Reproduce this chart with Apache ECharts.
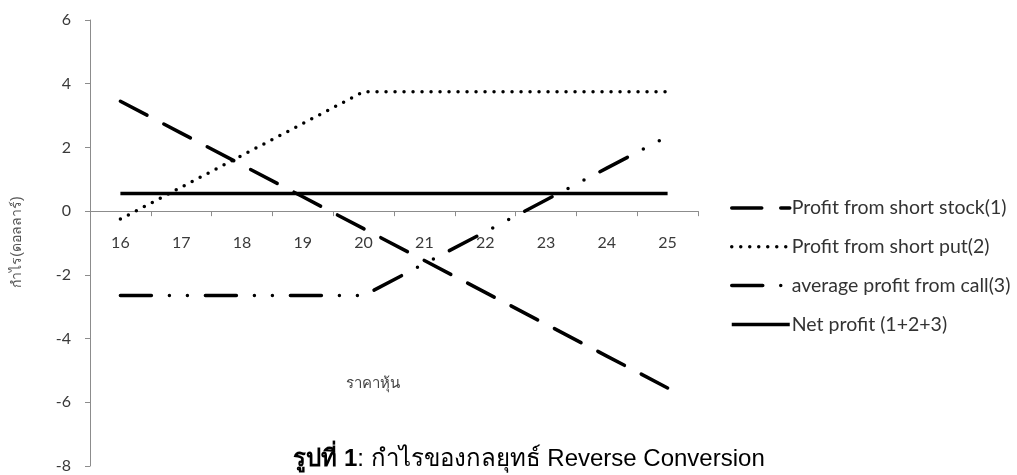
<!DOCTYPE html>
<html>
<head>
<meta charset="utf-8">
<style>
  html, body { margin: 0; padding: 0; background: #ffffff; }
  #chart { width: 1017px; height: 475px; }
</style>
<script src="https://cdn.jsdelivr.net/npm/echarts@6/dist/echarts.min.js"></script>
</head>
<body>
<div id="chart"></div>
<script>
// Stock price at expiry (x axis categories)
const prices = ['16', '17', '18', '19', '20', '21', '22', '23', '24', '25'];

// Profit components (dollars) at each price
const shortStock = [3.45, 2.45, 1.45, 0.45, -0.55, -1.55, -2.55, -3.55, -4.55, -5.55];
const shortPut   = [-0.25, 0.75, 1.75, 2.75, 3.75, 3.75, 3.75, 3.75, 3.75, 3.75];
const callProfit = [-2.65, -2.65, -2.65, -2.65, -2.65, -1.65, -0.65, 0.35, 1.35, 2.35];
const netProfit  = [0.55, 0.55, 0.55, 0.55, 0.55, 0.55, 0.55, 0.55, 0.55, 0.55];

const seriesNames = [
  'Profit from short stock(1)',
  'Profit from short put(2)',
  'average profit from call(3)',
  'Net profit (1+2+3)'
];

const yTicks = { min: -8, max: 6, step: 2 };

const labelFont = 'Lato, "Open Sans", sans-serif';
const axisGray = '#8c8c8c';

// Plot frame
const gridBox = { left: 90, right: 319, top: 20, bottom: 9 };
const plotHeight = 475 - gridBox.top - gridBox.bottom;
// The category axis sits on the zero line: shift it up from the bottom edge
const zeroOffset = -plotHeight * (0 - yTicks.min) / (yTicks.max - yTicks.min);

function lineSeries(name, data, width, dash, cap) {
  return {
    name: name,
    type: 'line',
    data: data,
    symbol: 'none',
    silent: true,
    animation: false,
    lineStyle: { color: '#000000', width: width, type: dash, cap: cap || 'round' }
  };
}

const chart = echarts.init(document.getElementById('chart'), null, { renderer: 'canvas' });

chart.setOption({
  backgroundColor: '#ffffff',
  animation: false,
  grid: Object.assign({ containLabel: false, outerBoundsMode: 'none' }, gridBox),
  title: {
    text: '{b|รูปที่ 1}{n|: กำไรของกลยุทธ์ Reverse Conversion}',
    left: 524,
    textAlign: 'center',
    top: 442,
    textStyle: {
      rich: {
        b: { fontSize: 24, fontWeight: 'bold', color: '#000', fontFamily: '"Liberation Sans", sans-serif' },
        n: { fontSize: 24, fontWeight: 'normal', color: '#000', fontFamily: '"Liberation Sans", sans-serif' }
      }
    }
  },
  graphic: [
    {
      type: 'text',
      left: 346,
      top: 376,
      style: { text: 'ราคาหุ้น', fontSize: 15, fill: '#444', fontFamily: 'sans-serif' }
    },
    {
      type: 'text',
      x: 17,
      y: 242,
      rotation: Math.PI / 2,
      style: {
        text: 'กำไร(ดอลลาร์)',
        fontSize: 14,
        fill: '#555',
        fontFamily: 'sans-serif',
        align: 'center',
        verticalAlign: 'middle'
      }
    }
  ],
  legend: {
    orient: 'vertical',
    left: 725,
    top: 193,
    itemWidth: 58,
    itemHeight: 18,
    itemGap: 18.8,
    selectedMode: false,
    textStyle: { fontSize: 19.5, color: '#333', fontFamily: labelFont, padding: [0, 0, 0, -3] },
    itemStyle: { opacity: 0 },
    lineStyle: { width: 3.5 },
    data: seriesNames
  },
  xAxis: {
    type: 'category',
    data: prices,
    boundaryGap: true,
    offset: zeroOffset,
    axisLine: { onZero: false, lineStyle: { color: axisGray, width: 1 } },
    axisTick: { show: true, length: 5, lineStyle: { color: axisGray } },
    axisLabel: { fontSize: 16, color: '#3a3a3a', fontFamily: labelFont, margin: 24 },
    splitLine: { show: false }
  },
  yAxis: {
    type: 'value',
    min: yTicks.min,
    max: yTicks.max,
    interval: yTicks.step,
    axisLine: { show: true, lineStyle: { color: axisGray, width: 1 } },
    axisTick: { show: true, length: 5, lineStyle: { color: axisGray } },
    axisLabel: { fontSize: 16, color: '#3a3a3a', fontFamily: labelFont, margin: 19 },
    splitLine: { show: false }
  },
  series: [
    lineSeries(seriesNames[0], shortStock, 3.5, [30, 19]),
    lineSeries(seriesNames[1], shortPut, 3.5, [0, 9]),
    lineSeries(seriesNames[2], callProfit, 3.5, [31, 18, 0, 18, 0, 18]),
    lineSeries(seriesNames[3], netProfit, 3.5, 'solid', 'butt')
  ]
});
</script>
</body>
</html>
